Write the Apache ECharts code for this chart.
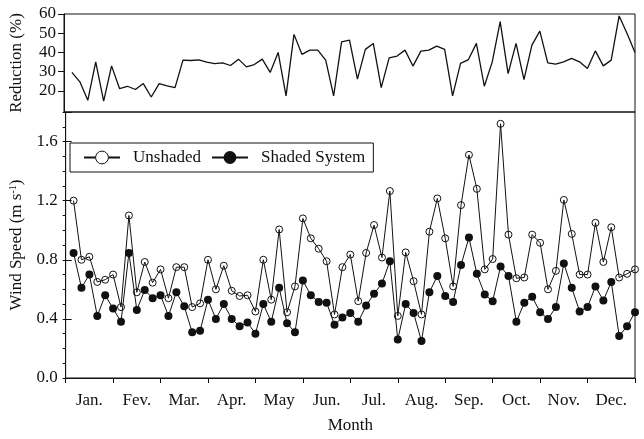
<!DOCTYPE html>
<html>
<head>
<meta charset="utf-8">
<script src="https://cdn.jsdelivr.net/npm/echarts@6/dist/echarts.min.js"></script>
<style>
  html, body { margin: 0; padding: 0; background: #fff; }
  #chart { width: 644px; height: 439px; }
</style>
</head>
<body>
<div id="chart"></div>
<script>
// month names, one band per month (6 readings per month)
var months = ['Jan.', 'Fev.', 'Mar.', 'Apr.', 'May', 'Jun.', 'Jul.', 'Aug.', 'Sep.', 'Oct.', 'Nov.', 'Dec.'];

// wind speed, m s-1
var unshaded = [
	1.20, 0.80, 0.82, 0.65, 0.665, 0.70, 0.48, 1.10, 0.58, 0.785, 0.645, 0.735,
	0.54, 0.75, 0.75, 0.48, 0.505, 0.80, 0.60, 0.76, 0.59, 0.555, 0.56, 0.45,
	0.80, 0.53, 1.005, 0.445, 0.62, 1.08, 0.945, 0.875, 0.79, 0.43, 0.75, 0.835,
	0.52, 0.846, 1.035, 0.815, 1.265, 0.42, 0.85, 0.655, 0.43, 0.99, 1.215, 0.945,
	0.62, 1.17, 1.51, 1.28, 0.735, 0.805, 1.72, 0.97, 0.675, 0.68, 0.97, 0.915,
	0.60, 0.725, 1.205, 0.975, 0.70, 0.70, 1.05, 0.785, 1.02, 0.68, 0.705, 0.735
];
var shaded = [
	0.846, 0.61, 0.70, 0.42, 0.56, 0.47, 0.38, 0.846, 0.46, 0.595, 0.54, 0.56,
	0.42, 0.58, 0.485, 0.31, 0.32, 0.53, 0.40, 0.50, 0.40, 0.35, 0.375, 0.30,
	0.50, 0.38, 0.61, 0.37, 0.31, 0.66, 0.56, 0.515, 0.51, 0.36, 0.41, 0.44,
	0.38, 0.49, 0.57, 0.64, 0.79, 0.26, 0.50, 0.44, 0.25, 0.58, 0.69, 0.555,
	0.515, 0.765, 0.95, 0.705, 0.565, 0.52, 0.755, 0.69, 0.38, 0.51, 0.55, 0.445,
	0.40, 0.48, 0.775, 0.61, 0.45, 0.48, 0.62, 0.525, 0.65, 0.285, 0.35, 0.445
];
// reduction, %
var reduction = [
	29.6, 24.7, 15.1, 35.1, 14.7, 33.0, 21.2, 22.4, 20.7, 23.8, 16.8, 23.8,
	22.6, 21.7, 36.0, 35.8, 36.1, 34.9, 34.2, 34.6, 33.2, 36.5, 32.5, 33.7,
	36.5, 29.6, 40.0, 17.4, 49.4, 39.0, 41.2, 41.2, 36.0, 17.4, 45.5, 46.4,
	26.1, 41.6, 44.7, 21.7, 37.2, 38.1, 41.2, 32.9, 40.7, 41.2, 43.3, 41.6,
	17.4, 34.3, 36.3, 44.7, 22.4, 35.1, 56.0, 29.0, 44.7, 25.9, 43.8, 51.1,
	34.6, 33.9, 35.1, 36.9, 35.1, 31.6, 40.8, 33.0, 36.0, 59.0, 49.9, 40.0
];
var reductionTicks = [20, 30, 40, 50, 60];
var speedTicks = [0, 0.4, 0.8, 1.2, 1.6];

var pairs = function (arr) {
	return arr.map(function (v, i) { return [i + 1, v]; });
};

var font = 'Liberation Serif';
var ink = '#111';

var option = {
	animation: false,
	textStyle: { fontFamily: font, color: ink },
	grid: [
		{ left: 55, right: 9, top: 14, height: 98, show: true, borderColor: ink, borderWidth: 1 },
		{ left: 55, right: 9, top: 112, height: 272, show: true, borderColor: ink, borderWidth: 1 }
	],
	legend: {
		left: 70,
		top: 143,
		orient: 'horizontal',
		borderColor: ink,
		borderWidth: 1,
		padding: [6, 8, 6, 13],
		itemWidth: 36,
		itemHeight: 16,
		itemGap: 10,
		textStyle: { fontFamily: font, fontSize: 17, color: ink, padding: [0, 0, 0, 8] },
		data: [
			{ name: 'Unshaded', itemStyle: { color: '#fff', borderColor: ink, borderWidth: 1 } },
			{ name: 'Shaded System' }
		]
	},
	xAxis: [
		{ // top panel
			gridIndex: 0, type: 'value', min: 0, max: 72,
			axisLine: { show: false }, axisTick: { show: false },
			axisLabel: { show: false }, splitLine: { show: false }
		},
		{ // bottom panel, month boundaries
			gridIndex: 1, type: 'value', min: 0, max: 72, interval: 6,
			axisLine: { lineStyle: { color: ink } },
			axisTick: { length: 5, lineStyle: { color: ink } },
			axisLabel: { show: false }, splitLine: { show: false }
		},
		{ // mirrored ticks on top of bottom panel
			gridIndex: 1, type: 'value', min: 0, max: 72, interval: 6, position: 'top',
			axisLine: { show: false },
			axisTick: { inside: true, length: 5, lineStyle: { color: ink } },
			axisLabel: { show: false }, splitLine: { show: false }
		},
		{ // month names
			gridIndex: 1, type: 'category', data: months, position: 'bottom', boundaryGap: true,
			axisLine: { show: false }, axisTick: { show: false },
			axisLabel: { fontFamily: font, fontSize: 17, color: ink, margin: 14, interval: 0 },
			name: 'Month', nameLocation: 'middle', nameGap: 39,
			nameTextStyle: { fontFamily: font, fontSize: 17, color: ink }
		}
	],
	yAxis: [
		{
			gridIndex: 0, type: 'value', min: 9, max: 60,
			axisLine: { show: true, lineStyle: { color: ink } },
			axisTick: { show: true, length: 6, customValues: reductionTicks, lineStyle: { color: ink } },
			axisLabel: { customValues: reductionTicks, fontFamily: font, fontSize: 17, color: ink, margin: 8 },
			splitLine: { show: false },
			name: 'Reduction (%)', nameLocation: 'middle', nameRotate: 90, nameGap: 39,
			nameTextStyle: { fontFamily: font, fontSize: 17, color: ink }
		},
		{ // minor ticks every 0.1
			gridIndex: 1, type: 'value', min: 0, max: 1.8, interval: 0.1,
			axisLine: { show: true, lineStyle: { color: ink } },
			axisTick: { show: true, length: 3, lineStyle: { color: ink } },
			axisLabel: {
				customValues: speedTicks, fontFamily: font, fontSize: 17, color: ink, margin: 8,
				formatter: function (v) { return v.toFixed(1); }
			},
			splitLine: { show: false },
			name: 'Wind Speed (m s{sup|-1})', nameLocation: 'middle', nameRotate: 90, nameGap: 39,
			nameTextStyle: {
				fontFamily: font, fontSize: 17, color: ink,
				rich: { sup: { fontFamily: font, fontSize: 10, color: ink, verticalAlign: 'top', padding: [0, 0, 8, 0] } }
			}
		},
		{ // major ticks
			gridIndex: 1, type: 'value', min: 0, max: 1.8, interval: 0.4,
			axisLine: { show: false },
			axisTick: { show: true, length: 6, lineStyle: { color: ink } },
			axisLabel: { show: false }, splitLine: { show: false }
		}
	],
	series: [
		{
			name: 'Reduction', type: 'line', xAxisIndex: 0, yAxisIndex: 0,
			data: pairs(reduction), showSymbol: false, symbol: 'none',
			lineStyle: { color: ink, width: 1.3 }
		},
		{
			name: 'Unshaded', type: 'line', xAxisIndex: 1, yAxisIndex: 1,
			data: pairs(unshaded), symbol: 'circle', symbolSize: 7,
			itemStyle: { color: 'transparent', borderColor: ink, borderWidth: 1 },
			lineStyle: { color: ink, width: 1 }
		},
		{
			name: 'Shaded System', type: 'line', xAxisIndex: 1, yAxisIndex: 1,
			data: pairs(shaded), symbol: 'circle', symbolSize: 8,
			itemStyle: { color: ink },
			lineStyle: { color: ink, width: 1 }
		}
	]
};

var myChart = echarts.init(document.getElementById('chart'));
myChart.setOption(option);
</script>
</body>
</html>
